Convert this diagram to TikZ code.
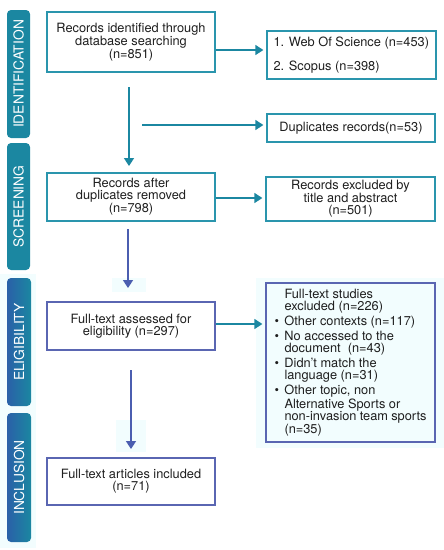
\documentclass[tikz,border=0pt]{standalone}
\usepackage{fontspec}
\setmainfont{TeX Gyre Heros}
\usetikzlibrary{arrows.meta}
\definecolor{tealA}{HTML}{1B87A1}
\definecolor{tealB}{HTML}{2A95AD}
\definecolor{blueA}{HTML}{4B5EB0}
\definecolor{blueB}{HTML}{5A66B2}
\definecolor{tabblue}{HTML}{2A60A8}
\definecolor{textc}{HTML}{1E1E1E}
\definecolor{paleCyan}{HTML}{F2FDFE}
\tikzset{
  box/.style={draw=#1, line width=1.3pt, minimum width=168pt, inner sep=0pt, align=center, text=textc,
    font=\fontsize{12.8}{12}\selectfont},
  arr/.style={draw=#1, line width=1.6pt, -{Triangle[length=8pt,width=10pt]}},
  tab/.style={rounded corners=4pt, line width=0pt},
  tabtext/.style={text=white, rotate=90, font=\fontsize{13.8}{14}\selectfont, inner sep=0pt},
}
\begin{document}
\begin{tikzpicture}[x=1pt,y=-1pt]
\useasboundingbox (0,0) rectangle (444,550);
% pale background patches
\fill[paleCyan] (0,274) rectangle (36,548);
\fill[paleCyan] (256,278) rectangle (444,448);
\fill[paleCyan] (112,278) rectangle (146,292);
\fill[paleCyan] (116,420) rectangle (146,452);

% side tabs
\fill[tab, tealA] (7,10) rectangle (30,138);
\fill[tab, tealA] (7,143) rectangle (30,270);
\shade[tab, left color=tabblue, right color=tealA] (7,278) rectangle (31,406);
\shade[tab, left color=tabblue, right color=tealA] (7,413) rectangle (31,542);
\node[tabtext] (tid) at (18.5,74) {IDENTIFICATION};
\node[tabtext] (tscr) at (18.5,206.5) {SCREENING};
\node[tabtext] (teli) at (19,342) {ELIGIBILITY};
\node[tabtext] (tinc) at (19,477.5) {INCLUSION};

% boxes
\node[box=tealB, minimum height=60pt] (id) at (131,42) {Records identified through\\database searching\\(n=851)};
\node[box=tealB, minimum width=169pt, minimum height=48pt, align=left] (db) at (351.5,55)
  {\parbox{156pt}{\fontsize{12.8}{12}\selectfont 1. Web Of Science (n=453)\\[10pt]2. Scopus (n=398)}};
\node[box=tealB, minimum height=28pt] (dup) at (351,128) {Duplicates records(n=53)};
\node[box=tealB, minimum height=48pt] (after) at (131,197) {Records after\\duplicates removed\\(n=798)};
\node[box=tealB, minimum width=169pt, minimum height=44pt] (excl) at (350.5,199) {Records excluded by\\title and abstract\\(n=501)};
\node[box=blueB, minimum height=48pt] (full) at (131,326) {Full-text assessed for\\eligibility (n=297)};
\node[box=blueB, minimum width=169pt, minimum height=159pt] (stud) at (350.5,362.5)
  {\parbox{152pt}{\fontsize{12.8}{12}\selectfont\raggedright
   \hspace*{10pt}Full-text studies\\
   \hspace*{10pt}excluded (n=226)\\[2pt]
   \makebox[10pt][l]{\textbullet}Other contexts (n=117)\\[2pt]
   \makebox[10pt][l]{\textbullet}No accessed to the\\
   \hspace*{10pt}document\ \ (n=43)\\[2pt]
   \makebox[10pt][l]{\textbullet}Didn't match the\\
   \hspace*{10pt}language (n=31)\\[2pt]
   \makebox[10pt][l]{\textbullet}Other topic, non\\
   \hspace*{10pt}Alternative Sports or\\
   \hspace*{10pt}non-invasion team sports\\
   \hspace*{10pt}(n=35)}};
\node[box=blueB, minimum height=47pt] (incl) at (131,481.5) {Full-text articles included\\(n=71)};

% connector coordinates
\coordinate (v1s) at (129,87);
\coordinate (v1e) at (129,166);
\coordinate (h2s) at (142,125);
\coordinate (v2s) at (128,229);
\coordinate (v2e) at (128,288);
\coordinate (v3s) at (131,370);
\coordinate (v3e) at (131,449);

% connectors
\draw[arr=tealA] (v1s) -- (v1e);
\draw[arr=tealA] (id.east |- 0,50) -- ([xshift=-3pt]db.west |- 0,50);
\draw[arr=tealA] (h2s) -- ([xshift=-3pt]dup.west |- h2s);
\draw[arr=tealA] (after.east |- 0,198) -- ([xshift=-3pt]excl.west |- 0,198);
\draw[arr=blueA] (v2s) -- (v2e);
\draw[arr=tealA] (full.east |- 0,324) -- ([xshift=-3pt]stud.west |- 0,324);
\draw[arr=blueA] (v3s) -- (v3e);
\end{tikzpicture}
\end{document}
